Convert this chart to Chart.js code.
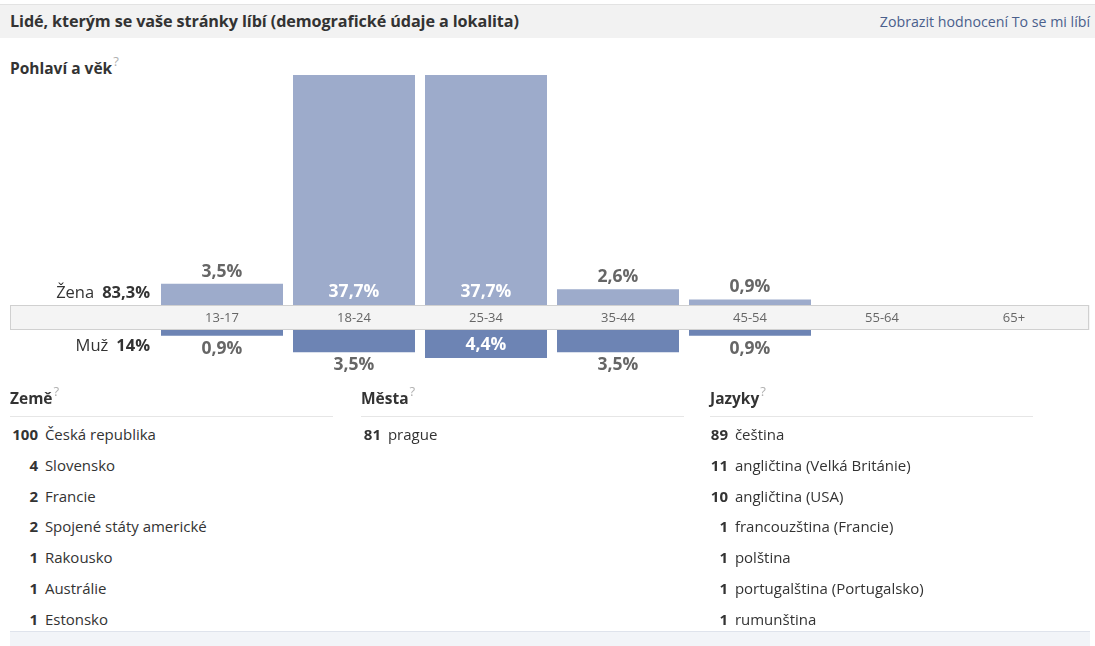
<!DOCTYPE html>
<html>
<head>
<meta charset="utf-8">
<script src="https://cdn.jsdelivr.net/npm/chart.js@4/dist/chart.umd.min.js"></script>
<style>
  html, body { margin:0; padding:0; background:#fff; }
  body { width:1095px; height:646px; position:relative; overflow:hidden;
         font-family:"Open Sans","Noto Sans","DejaVu Sans",sans-serif; color:#333; }
  .abs { position:absolute; }
  #hdr { left:0; top:4px; width:1095px; height:33px; background:#f2f2f2; border-top:1px solid #e3e3e3; }
  #title { left:10px; top:0; line-height:33px; font-weight:bold; font-size:16.2px; color:#333; letter-spacing:-0.1px; }
  #link { right:5px; top:0; line-height:33px; font-size:14.2px; color:#4a5f8c; }
  .h { font-weight:bold; font-size:15.5px; color:#333; }
  .q { color:#b0b0b0; font-weight:normal; font-size:13px; vertical-align:top; position:relative; top:-5px; margin-left:1px; }
  .sex { font-size:16.5px; color:#333; text-align:right; width:140px; }
  .sex b { margin-left:8px; }
  .row { position:absolute; font-size:15px; white-space:nowrap; }
  .row b { display:inline-block; text-align:right; margin-right:3px; }
  #foot { left:10px; top:631px; width:1080px; height:20px; background:#f2f4f8; border-top:1px solid #dfe3ec; }
</style>
</head>
<body>
<div id="hdr" class="abs">
  <div id="title" class="abs">Lidé, kterým se vaše stránky líbí (demografické údaje a lokalita)</div>
  <div id="link" class="abs">Zobrazit hodnocení To se mi líbí</div>
</div>
<div class="abs h" style="left:10px; top:57px;">Pohlaví a věk<span class="q">?</span></div>

<canvas id="cF" class="abs" style="left:10px; top:60px;"></canvas>
<canvas id="cM" class="abs" style="left:10px; top:330px;"></canvas>

<div class="abs sex" style="left:10px; top:280px;">Žena<b id="fTot"></b></div>
<div class="abs sex" style="left:10px; top:333px;">Muž<b id="mTot"></b></div>

<div id="lists"></div>
<div id="foot" class="abs"></div>

<script>
// ---------- data ----------
const ageGroups   = ["13-17","18-24","25-34","35-44","45-54","55-64","65+"];
const femaleShare = [3.5, 37.7, 37.7, 2.6, 0.9, 0, 0];
const maleShare   = [0.9, 3.5, 4.4, 3.5, 0.9, 0, 0];
const femaleTotal = "83,3%";
const maleTotal   = "14%";

const countryNames  = ["Česká republika","Slovensko","Francie","Spojené státy americké","Rakousko","Austrálie","Estonsko"];
const countryCounts = [100, 4, 2, 2, 1, 1, 1];
const cityNames     = ["prague"];
const cityCounts    = [81];
const languageNames  = ["čeština","angličtina (Velká Británie)","angličtina (USA)","francouzština (Francie)","polština","portugalština (Portugalsko)","rumunština"];
const languageCounts = [89, 11, 10, 1, 1, 1, 1];

// ---------- side labels ----------
document.getElementById('fTot').textContent = femaleTotal;
document.getElementById('mTot').textContent = maleTotal;

// ---------- lists ----------
function buildList(title, names, counts, left, numW) {
  const wrap = document.getElementById('lists');
  const h = document.createElement('div');
  h.className = 'abs h';
  h.style.left = left + 'px'; h.style.top = '387px';
  h.innerHTML = title + '<span class="q">?</span>';
  wrap.appendChild(h);
  const r = document.createElement('div');
  r.className = 'abs'; r.style.cssText = 'left:'+left+'px;top:416px;width:323px;height:1px;background:#e6e6e6;';
  wrap.appendChild(r);
  names.forEach((n, i) => {
    const d = document.createElement('div');
    d.className = 'row';
    d.style.left = left + 'px';
    d.style.top = (424 + i * 30.8) + 'px';
    d.innerHTML = '<b style="width:' + numW + 'px">' + counts[i] + '</b> ' + n;
    wrap.appendChild(d);
  });
}
buildList('Země', countryNames, countryCounts, 10, 28);
buildList('Města', cityNames, cityCounts, 361, 20);
buildList('Jazyky', languageNames, languageCounts, 710, 18);

// ---------- charts ----------
const FONT = '"Open Sans","Noto Sans","DejaVu Sans",sans-serif';
const femaleColor = '#9dabcb';
const maleColor   = '#6d84b4';
const fmt = v => String(v).replace('.', ',') + '%';

const bandPlugin = {
  id: 'band',
  beforeDraw(chart) {
    const ctx = chart.ctx, a = chart.chartArea;
    ctx.save();
    ctx.fillStyle = '#f4f4f4';
    ctx.fillRect(0, a.bottom, chart.width, chart.height - a.bottom);
    ctx.strokeStyle = '#d0d0d0';
    ctx.lineWidth = 1;
    ctx.strokeRect(0.5, a.bottom + 0.5, chart.width - 2, chart.height - a.bottom - 1);
    ctx.restore();
  }
};

function labelPlugin(reversed) {
  return {
    id: 'vals',
    afterDatasetsDraw(chart) {
      const ctx = chart.ctx;
      const meta = chart.getDatasetMeta(0);
      const data = chart.data.datasets[0].data;
      ctx.save();
      ctx.font = 'bold 17.5px ' + FONT;
      ctx.textAlign = 'center';
      ctx.textBaseline = 'middle';
      meta.data.forEach((bar, i) => {
        const v = data[i];
        if (!v) return;
        const h = Math.abs(bar.base - bar.y);
        let y, col;
        if (h > 25) {
          col = '#ffffff';
          y = reversed ? bar.base + 15 : bar.base - 13;
        } else {
          col = '#666666';
          y = reversed ? bar.y + 13 : bar.y - 12;
        }
        ctx.fillStyle = col;
        ctx.fillText(fmt(v), bar.x, y);
      });
      ctx.restore();
    }
  };
}

const common = {
  responsive: false,
  animation: false,
  plugins: { legend: { display: false }, tooltip: { enabled: false } },
};

const cF = document.getElementById('cF');
cF.width = 1080; cF.height = 270;
new Chart(cF, {
  type: 'bar',
  data: { labels: ageGroups, datasets: [{ data: femaleShare, backgroundColor: femaleColor,
          categoryPercentage: 1, barPercentage: 122/132, borderWidth: 0 }] },
  options: Object.assign({}, common, {
    layout: { padding: { left: 146, right: 10, top: 15, bottom: 0 } },
    scales: {
      x: { grid: { display: false, drawTicks: false }, border: { display: false },
           ticks: { color: '#666', font: { family: FONT, size: 13 }, padding: 5 },
           afterFit(s) { s.height = 25; } },
      y: { display: false, min: 0, max: 37.7 }
    }
  }),
  plugins: [bandPlugin, labelPlugin(false)]
});

const cM = document.getElementById('cM');
cM.width = 1080; cM.height = 60;
new Chart(cM, {
  type: 'bar',
  data: { labels: ageGroups, datasets: [{ data: maleShare, backgroundColor: maleColor,
          categoryPercentage: 1, barPercentage: 122/132, borderWidth: 0 }] },
  options: Object.assign({}, common, {
    layout: { padding: { left: 146, right: 10, top: 0, bottom: 0 } },
    scales: {
      x: { display: false },
      y: { display: false, min: 0, max: 9.4, reverse: true }
    }
  }),
  plugins: [labelPlugin(true)]
});
</script>
</body>
</html>
